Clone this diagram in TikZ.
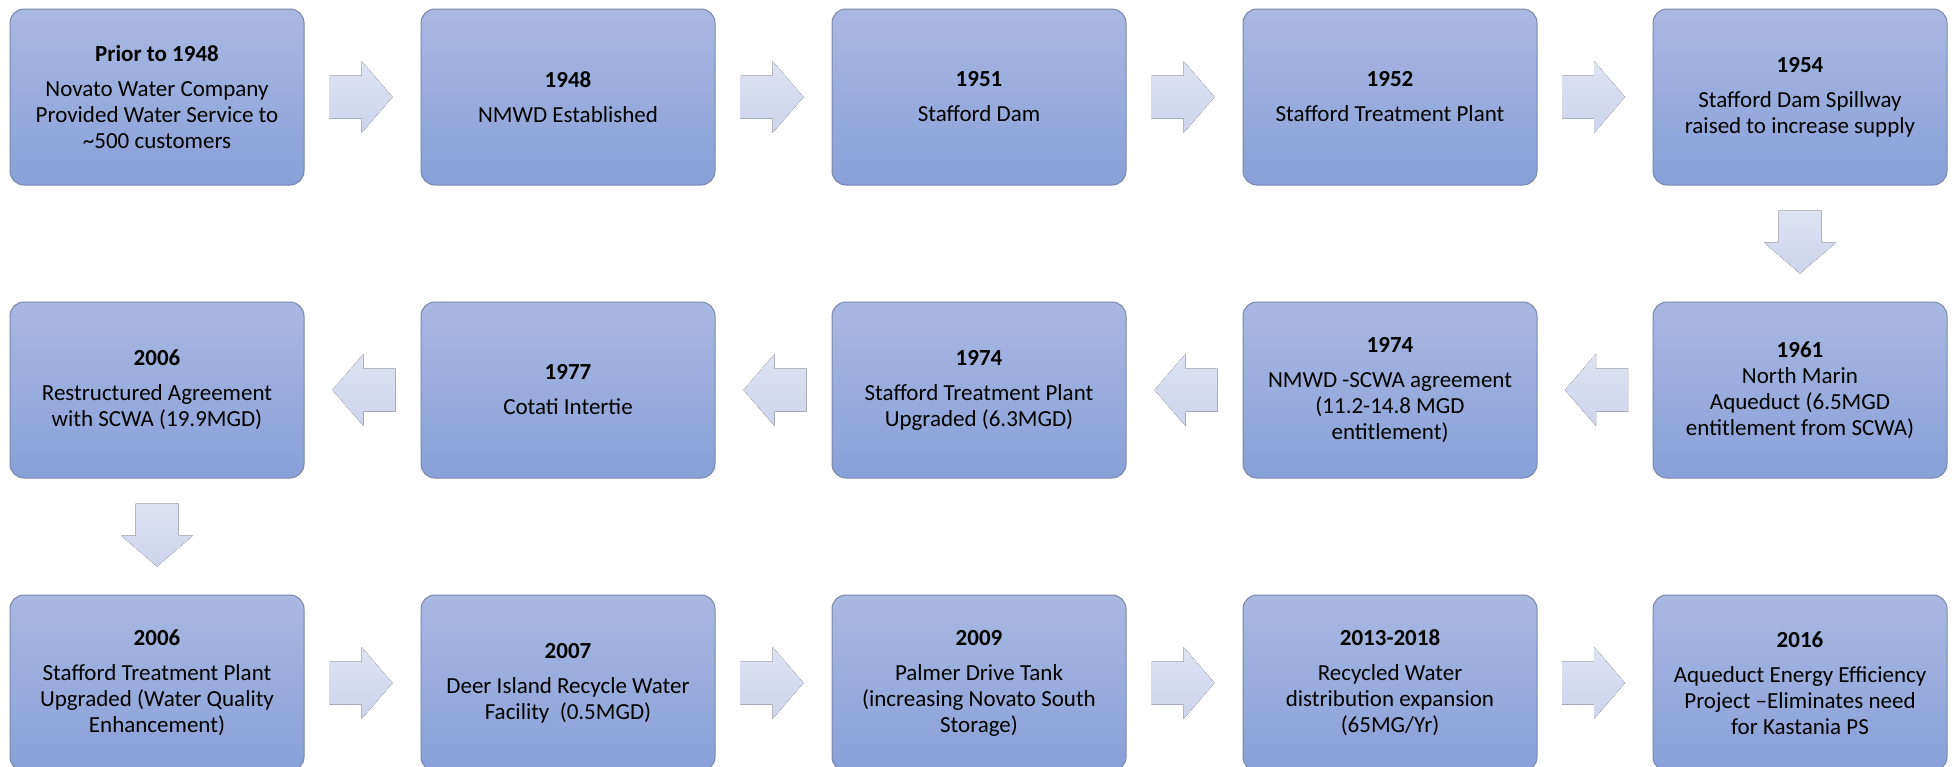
\documentclass[tikz,border=0pt]{standalone}
\usepackage{fontspec}
\setmainfont{Carlito}
\usetikzlibrary{calc}
\definecolor{boxtop}{RGB}{170,184,226}
\definecolor{boxbot}{RGB}{136,160,216}
\definecolor{boxline}{RGB}{122,134,170}
\definecolor{arrtop}{RGB}{222,227,242}
\definecolor{arrbot}{RGB}{205,212,235}
\tikzset{
  evbox/.style={rectangle, rounded corners=14pt, minimum width=294pt, minimum height=176pt,
    top color=boxtop, bottom color=boxbot, draw=boxline, line width=1pt,
    align=center, inner sep=2pt, text=black, font=\fontsize{23}{26}\selectfont},
  blockarrow/.pic={
    \fill[top color=arrtop, bottom color=arrbot]
      (-31.5,-21.5) -- (0.5,-21.5) -- (0.5,-36) -- (31.5,0) -- (0.5,36) -- (0.5,21.5) -- (-31.5,21.5) -- cycle;
  }
}
\newcommand{\yr}[1]{\textbf{#1}\\[9pt]}
\begin{document}
\begin{tikzpicture}[x=1pt,y=-1pt]
\useasboundingbox (0,0) rectangle (1955,766);
\clip (0,0) rectangle (1955,766);
% row 1
\node[evbox] (b1) at (157,97) {\yr{Prior to 1948}Novato Water Company\\Provided Water Service to\\\textasciitilde500 customers};
\node[evbox] (b2) at (568,97) {\yr{1948}NMWD Established};
\node[evbox] (b3) at (979,97) {\yr{1951}Stafford Dam};
\node[evbox] (b4) at (1390,97) {\yr{1952}Stafford Treatment Plant};
\node[evbox] (b5) at (1800,97) {\yr{1954}Stafford Dam Spillway\\raised to increase supply};
% row 2
\node[evbox] (b6) at (1800,390) {\textbf{1961}\\North Marin\\Aqueduct (6.5MGD\\entitlement from SCWA)};
\node[evbox] (b7) at (1390,390) {\yr{1974}NMWD -SCWA agreement\\(11.2-14.8 MGD\\entitlement)};
\node[evbox] (b8) at (979,390) {\yr{1974}Stafford Treatment Plant\\Upgraded (6.3MGD)};
\node[evbox] (b9) at (568,390) {\yr{1977}Cotati Intertie};
\node[evbox] (b10) at (157,390) {\yr{2006}Restructured Agreement\\with SCWA (19.9MGD)};
% row 3
\node[evbox] (b11) at (157,683) {\yr{2006}Stafford Treatment Plant\\Upgraded (Water Quality\\Enhancement)};
\node[evbox] (b12) at (568,683) {\yr{2007}Deer Island Recycle Water\\Facility~~(0.5MGD)};
\node[evbox] (b13) at (979,683) {\yr{2009}Palmer Drive Tank\\(increasing Novato South\\Storage)};
\node[evbox] (b14) at (1390,683) {\yr{2013-2018}Recycled Water\\distribution expansion\\(65MG/Yr)};
\node[evbox] (b15) at (1800,683) {\yr{2016}Aqueduct Energy Efficiency\\Project –Eliminates need\\for Kastania PS};
% arrows
\pic at ($(b1.east)!0.5!(b2.west)+(-1.5,0)$) {blockarrow};
\pic at ($(b2.east)!0.5!(b3.west)+(-1.5,0)$) {blockarrow};
\pic at ($(b3.east)!0.5!(b4.west)+(-1.5,0)$) {blockarrow};
\pic at ($(b4.east)!0.5!(b5.west)+(-1.5,0)$) {blockarrow};
\pic[rotate=-90] at ($(b5.south)!0.5!(b6.north)+(0,-1.5)$) {blockarrow};
\pic[rotate=180] at ($(b6.west)!0.5!(b7.east)+(1.5,0)$) {blockarrow};
\pic[rotate=180] at ($(b7.west)!0.5!(b8.east)+(1.5,0)$) {blockarrow};
\pic[rotate=180] at ($(b8.west)!0.5!(b9.east)+(1.5,0)$) {blockarrow};
\pic[rotate=180] at ($(b9.west)!0.5!(b10.east)+(1.5,0)$) {blockarrow};
\pic[rotate=-90] at ($(b10.south)!0.5!(b11.north)+(0,-1.5)$) {blockarrow};
\pic at ($(b11.east)!0.5!(b12.west)+(-1.5,0)$) {blockarrow};
\pic at ($(b12.east)!0.5!(b13.west)+(-1.5,0)$) {blockarrow};
\pic at ($(b13.east)!0.5!(b14.west)+(-1.5,0)$) {blockarrow};
\pic at ($(b14.east)!0.5!(b15.west)+(-1.5,0)$) {blockarrow};
\end{tikzpicture}
\end{document}
